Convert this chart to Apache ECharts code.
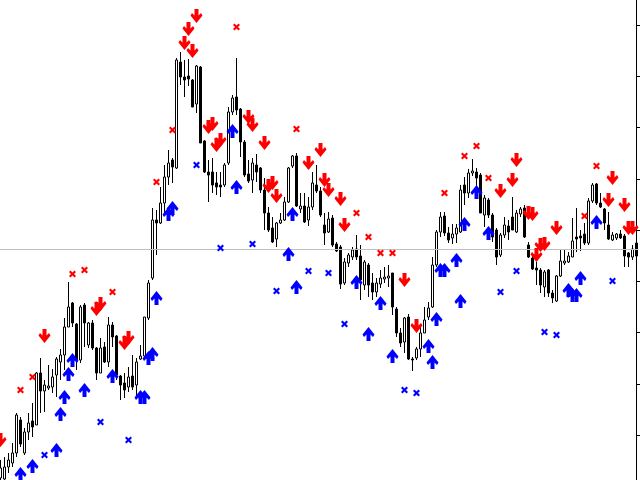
<!DOCTYPE html>
<html><head><meta charset="utf-8">
<script src="https://cdn.jsdelivr.net/npm/echarts@6/dist/echarts.min.js"></script>
<style>html,body{margin:0;padding:0;background:#fff}#c{width:640px;height:480px}</style>
</head><body><div id="c"></div>
<script>
// bar labels (one per candle)
const categories = Array.from({length: 160}, (_, i) => String(i + 1));

const opens = [2,1,13,17,27,60,27,48,59,55, 107,89,92,93,105,118,125,153,177,156, 120,175,135,157,132,107,133,118,155,144, 104,97,93,104,95,121,124,162,202,260, 257,277,303,320,312,418,403,404,400,376, 413,339,308,308,297,295,295,317,368,383, 371,338,306,300,315,312,290,267,252,241, 257,260,278,314,324,271,274,260,273,295, 289,255,248,262,236,233,197,217,223,231, 224,195,215,197,188,196,201,202,207,171, 147,138,163,121,122,131,147,163,173,215, 248,264,247,242,246,248,295,287,307,308, 305,265,280,265,250,225,245,254,263,248, 266,272,235,222,212,210,193,210,187,179, 204,217,218,223,243,244,246,237,279,296, 277,271,255,240,242,246,244,227,223,237];
const closes = [12,13,20,27,65,36,48,57,53,107, 89,95,94,103,121,125,153,173,157,120, 173,157,157,132,107,132,118,155,143,105, 95,90,103,93,118,124,163,197,260,257, 277,303,317,313,420,403,400,401,373,414, 337,308,305,295,293,293,315,368,382,370, 338,305,299,317,308,290,267,250,238,257, 260,278,312,324,274,274,258,273,297,289, 265,247,261,235,229,196,218,225,230,223, 200,218,195,188,197,202,203,204,173,147, 137,162,121,120,131,147,160,172,215,248, 263,247,240,246,252,290,287,307,309,302, 267,282,265,243,223,245,255,248,250,267, 271,243,223,211,210,195,208,187,182,204, 219,219,224,239,241,242,237,279,295,277, 273,257,241,245,246,242,224,223,231,224];
const lows = [-4,-2,7,13,23,33,25,40,43,55, 67,68,90,87,83,100,110,153,153,110, 117,133,132,130,100,107,117,113,133,100, 80,82,88,90,83,120,123,160,200,225, 256,267,295,297,311,395,383,394,373,367, 337,307,278,287,285,283,293,315,365,365, 323,303,297,287,298,287,250,248,237,233, 256,259,277,312,273,267,257,254,270,287, 263,235,247,233,228,191,195,213,220,220, 180,190,183,180,183,192,197,193,165,143, 133,127,120,109,120,123,147,160,172,213, 243,244,237,236,237,247,275,282,304,288, 267,253,262,238,215,223,242,240,250,247, 263,242,222,210,195,187,183,183,177,178, 203,215,217,223,228,229,235,235,277,275, 272,250,240,239,240,241,213,213,220,224];
const highs = [20,23,27,37,67,63,52,67,77,108, 122,100,115,111,123,131,162,198,178,157, 175,177,158,160,133,142,138,163,158,145, 105,107,113,125,122,135,163,200,272,270, 293,315,330,322,422,428,420,421,401,415, 414,340,320,322,308,308,317,373,385,422, 372,340,320,322,326,313,302,273,263,258, 267,283,313,325,327,287,287,283,308,315, 293,267,268,265,238,235,222,227,233,245, 235,220,217,207,202,210,213,215,207,173, 152,163,166,123,133,155,173,178,223,250, 268,268,253,256,256,295,303,311,321,312, 307,285,282,267,252,247,263,260,283,270, 273,275,238,225,218,212,210,211,190,205, 230,230,228,262,272,250,257,282,297,297, 287,272,268,248,247,250,246,228,235,237];

// signal markers: [bar index, price]
const sellArrows = [[0,40],[11,144],[24,171],[25,176],[31,137],[32,142],[46,437],[47,451],[48,429],[49,464],[52,353],[53,356],[54,335],[55,340],[62,363],[63,355],[66,337],[67,294],[68,297],[69,284],[77,317],[80,330],[81,300],[82,290],[85,281],[86,255],[101,200],[104,154],[125,289],[128,300],[129,320],[132,267],[133,266],[134,225],[135,235],[136,236],[139,252],[152,280],[153,302],[156,275],[157,252],[158,252]];
const buyArrows = [[5,6],[8,14],[14,30],[15,66],[16,83],[17,106],[18,120],[21,90],[28,104],[35,83],[36,83],[37,122],[38,126],[39,182],[42,266],[43,272],[58,349],[59,293],[72,226],[73,266],[74,193],[89,198],[92,146],[95,177],[98,124],[107,134],[108,118],[109,161],[110,210],[111,210],[114,220],[115,179],[116,256],[119,288],[122,247],[142,190],[143,185],[144,185],[145,202],[149,258]];
const redCrosses = [[5,90],[8,103],[18,206],[21,210],[28,188],[39,298],[43,350],[59,453],[74,351],[89,267],[92,243],[95,227],[98,227],[111,287],[116,324],[119,334],[122,302],[146,264],[149,314]];
const blueCrosses = [[11,25],[25,58],[32,40],[49,315],[55,232],[63,236],[69,189],[77,209],[82,207],[86,156],[101,90],[104,87],[125,188],[129,209],[136,148],[139,145],[153,199]];

const bidLevel = 231;
const priceTicks = [45, 96.25, 147.5, 198.75, 250, 301.25, 352.5, 403.75, 455];

const ohlc = opens.map((o, i) => [o, closes[i], lows[i], highs[i]]);

const downArrow = 'path://M4,0L8,0L8,6.5L10.5,4L12,6.5L6,14L0,6.5L1.5,4L4,6.5Z';
const upArrow = 'path://M4,14L8,14L8,7.5L10.5,10L12,7.5L6,0L0,7.5L1.5,10L4,7.5Z';
const cross = 'path://M0,1.5L1.5,0L3.5,2L5.5,0L7,1.5L5,3.5L7,5.5L5.5,7L3.5,5L1.5,7L0,5.5L2,3.5Z';

const chart = echarts.init(document.getElementById('c'), null, {renderer: 'canvas'});
chart.setOption({
  animation: false,
  backgroundColor: '#ffffff',
  grid: {left: -1.5, right: 1.5, top: 0, bottom: 0, containLabel: false, outerBoundsMode: 'none'},
  xAxis: {type: 'category', data: categories, show: false, boundaryGap: true},
  yAxis: {
    type: 'value', position: 'right', offset: -2, min: 0, max: 480,
    axisLine: {show: true, lineStyle: {color: '#000', width: 1}},
    axisTick: {show: true, inside: false, length: 4, lineStyle: {color: '#000'}, customValues: priceTicks},
    axisLabel: {show: false},
    splitLine: {show: false}
  },
  series: [
    {
      type: 'candlestick', data: ohlc, barWidth: 3, z: 2,
      itemStyle: {color: '#ffffff', color0: '#000000', borderColor: '#000000', borderColor0: '#000000', borderWidth: 1},
      markLine: {silent: true, symbol: 'none', label: {show: false},
        lineStyle: {color: '#c0c0c0', width: 1, type: 'solid'}, data: [{yAxis: bidLevel}]}
    },
    {type: 'scatter', data: sellArrows, symbol: downArrow, symbolSize: [12, 14], z: 5,
      itemStyle: {color: '#ff0000', opacity: 1}},
    {type: 'scatter', data: buyArrows, symbol: upArrow, symbolSize: [12, 14], z: 5,
      itemStyle: {color: '#0000ff', opacity: 1}},
    {type: 'scatter', data: redCrosses, symbol: cross, symbolSize: 7, z: 5,
      itemStyle: {color: '#ff0000', opacity: 1}},
    {type: 'scatter', data: blueCrosses, symbol: cross, symbolSize: 7, z: 5,
      itemStyle: {color: '#0000ff', opacity: 1}}
  ]
});
</script></body></html>
